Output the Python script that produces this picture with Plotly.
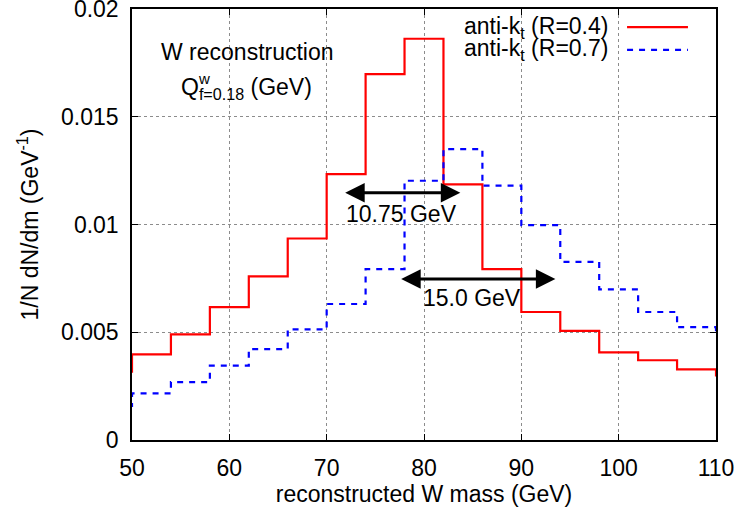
import plotly.graph_objects as go

# Histogram bins (left edges, GeV); first and last bins lie partly outside the shown range
bin_left = [46, 50, 54, 58, 62, 66, 70, 74, 78, 82, 86, 90, 94, 98, 102, 106, 110]
bin_width = 4
red_R04 = [0.00317, 0.00397, 0.00490, 0.00617, 0.00759, 0.00935, 0.01234, 0.01698,
           0.01862, 0.01186, 0.00793, 0.00594, 0.00506, 0.00407, 0.00370, 0.00328, 0.00300]
blue_R07 = [0.00158, 0.00216, 0.00269, 0.00345, 0.00422, 0.00513, 0.00631, 0.00793,
            0.01203, 0.01350, 0.01180, 0.00997, 0.00827, 0.00699, 0.00594, 0.00524, 0.00490]

x_ticks = [50, 60, 70, 80, 90, 100, 110]
y_ticks = [0, 0.005, 0.01, 0.015, 0.02]
y_ticktext = ["0", "0.005", "0.01", "0.015", "0.02"]

# Width arrows (x from, x to, y) and labels
arrow1 = (71.75, 83.73, 0.01147)
arrow1_label = ("10.75 GeV", 77.7, 0.01051)
arrow2 = (77.5, 93.5, 0.00747)
arrow2_label = ("15.0 GeV", 84.9, 0.00657)

FONT = "Liberation Sans, Arial, Helvetica, sans-serif"
FS = 23

xs = bin_left + [bin_left[-1] + bin_width]
fig = go.Figure()
fig.add_trace(go.Scatter(x=xs, y=red_R04 + [red_R04[-1]], mode="lines", line_shape="hv",
                         line=dict(color="#ff0000", width=2.2), showlegend=False))
fig.add_trace(go.Scatter(x=xs, y=blue_R07 + [blue_R07[-1]], mode="lines", line_shape="hv",
                         line=dict(color="#0000ff", width=2.2, dash="6px,6px"), showlegend=False))

axis_common = dict(showline=True, linecolor="black", linewidth=1.5, mirror="ticks",
                   ticks="inside", ticklen=6, tickcolor="black", tickwidth=1,
                   showgrid=True, gridcolor="#8c8c8c", griddash="dot", gridwidth=1,
                   zeroline=False, ticklabeloverflow="allow", automargin=False,
                   tickfont=dict(family=FONT, size=FS, color="black"))

fig.update_xaxes(range=[50, 110], tickvals=x_ticks, ticklabelstandoff=7,
                 title=dict(text="reconstructed W mass (GeV)", standoff=6,
                            font=dict(family=FONT, size=FS, color="black")),
                 **axis_common)
fig.update_yaxes(range=[0, 0.02], tickvals=y_ticks, ticktext=y_ticktext, ticklabelstandoff=7,
                 title=dict(text="1/N dN/dm (GeV<sup>-1</sup>)", standoff=16,
                            font=dict(family=FONT, size=FS, color="black")),
                 **axis_common)

ann = []
for (x0, x1, y), (txt, tx, ty) in [(arrow1, arrow1_label), (arrow2, arrow2_label)]:
    ann.append(dict(x=x1, y=y, ax=x0, ay=y, xref="x", yref="y", axref="x", ayref="y",
                    text="", showarrow=True, arrowhead=2, startarrowhead=2,
                    arrowside="end+start", arrowsize=1.3, startarrowsize=1.3,
                    arrowwidth=3, arrowcolor="black", standoff=0, startstandoff=0))
    ann.append(dict(x=tx, y=ty, xref="x", yref="y", text=txt, showarrow=False,
                    xanchor="center", yanchor="middle",
                    font=dict(family=FONT, size=FS, color="black")))

# text block top-left
ann.append(dict(x=0.197, y=0.900, xref="paper", yref="paper", text="W reconstruction",
                showarrow=False, xanchor="center", yanchor="middle",
                font=dict(family=FONT, size=FS, color="black")))
ann.append(dict(x=0.080, y=0.815, xref="paper", yref="paper",
                text="Q<sub>f=0.18</sub> (GeV)", showarrow=False,
                xanchor="left", yanchor="middle",
                font=dict(family=FONT, size=FS, color="black")))
ann.append(dict(x=0.1235, y=0.8376, xref="paper", yref="paper", text="w",
                showarrow=False, xanchor="center", yanchor="middle",
                font=dict(family=FONT, size=15, color="black")))

# legend (text then line sample, gnuplot style)
legend_rows = [("anti-k<sub>t</sub> (R=0.4)", "#ff0000", "solid", 0.958),
               ("anti-k<sub>t</sub> (R=0.7)", "#0000ff", "6px,6px", 0.905)]
shapes = []
for txt, col, dash, yy in legend_rows:
    ann.append(dict(x=0.8187, y=yy, xref="paper", yref="paper", text=txt,
                    xanchor="right", yanchor="middle",
                    showarrow=False, font=dict(family=FONT, size=FS, color="black")))
    shapes.append(dict(type="line", xref="paper", yref="paper", x0=0.8477, x1=0.952,
                       y0=yy, y1=yy, line=dict(color=col, width=2.2, dash=dash)))

fig.update_layout(width=740, height=519, margin=dict(l=131.5, r=24, t=9, b=79),
                  plot_bgcolor="white", paper_bgcolor="white",
                  annotations=ann, shapes=shapes, showlegend=False)

# remove the default 8px page margin so the figure fills the window exactly
fig.write_html("out.html", config={"displayModeBar": False},
               post_script="document.body.style.margin='0';")
